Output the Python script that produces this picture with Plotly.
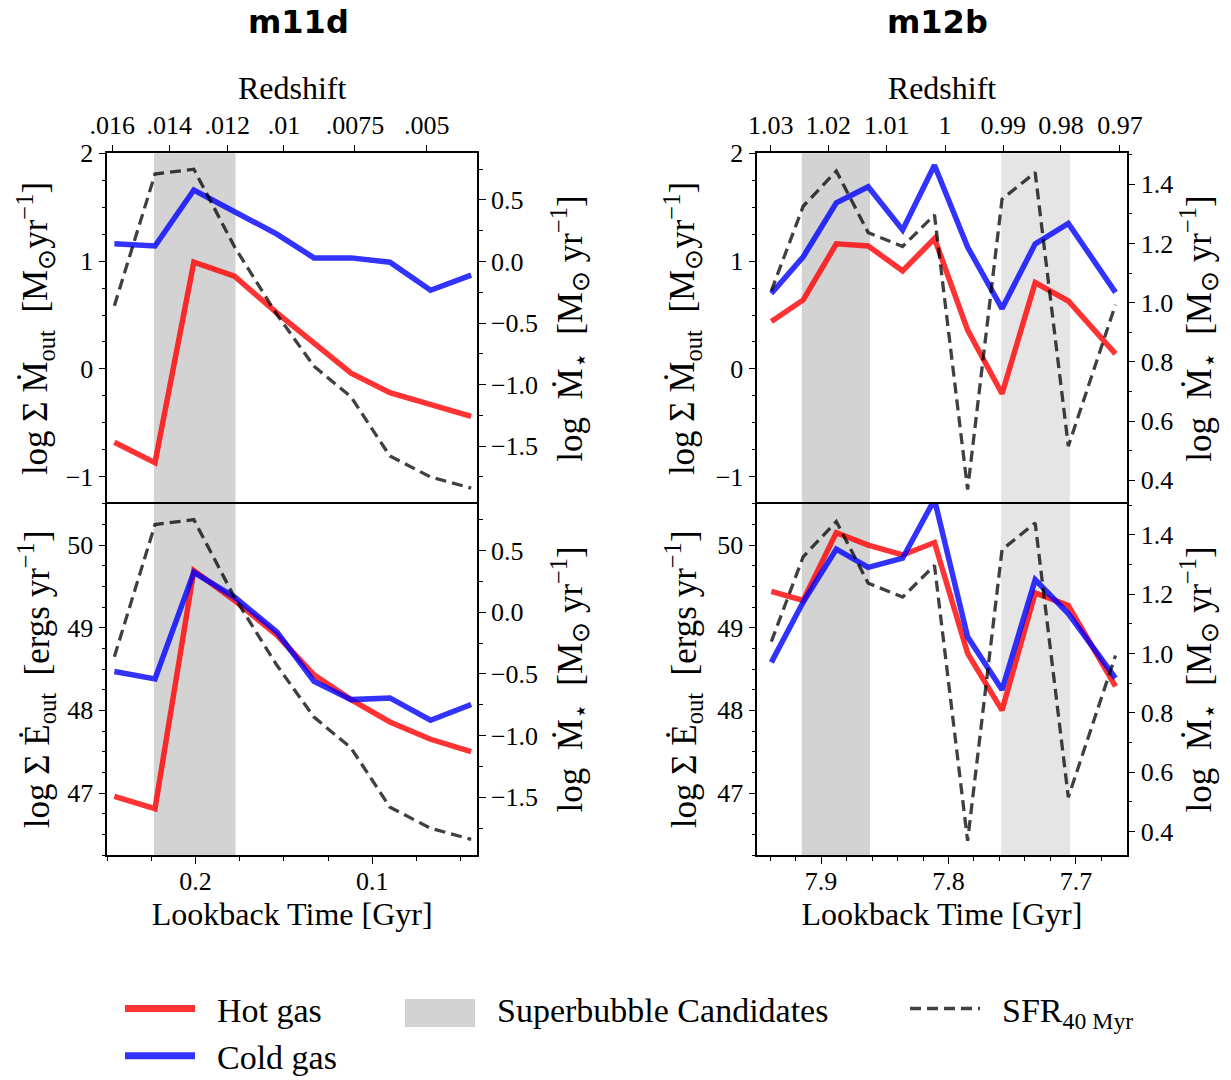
import plotly.graph_objects as go

SERIF = "Liberation Serif"

# ---------------- data ----------------
# m11d  (lookback time in Gyr)
t_m11d = [0.246, 0.223, 0.201, 0.178, 0.154, 0.133, 0.112, 0.090, 0.067, 0.044]
mout_hot_m11d = [-0.68, -0.87, 0.99, 0.86, 0.52, 0.24, -0.04, -0.22, -0.33, -0.44]
mout_cold_m11d = [1.16, 1.14, 1.66, 1.46, 1.25, 1.03, 1.03, 0.99, 0.73, 0.87]
edot_hot_m11d = [46.96, 46.81, 49.69, 49.33, 48.91, 48.43, 48.13, 47.86, 47.65, 47.50]
edot_cold_m11d = [48.47, 48.38, 49.67, 49.37, 48.95, 48.35, 48.13, 48.15, 47.88, 48.07]
sfr_m11d = [-0.36, 0.71, 0.75, 0.12, -0.43, -0.85, -1.10, -1.58, -1.75, -1.84]

# m12b
t_m12b = [7.939, 7.914, 7.888, 7.863, 7.836, 7.811, 7.785, 7.758, 7.732, 7.706, 7.669]
mout_hot_m12b = [0.44, 0.64, 1.16, 1.14, 0.91, 1.21, 0.36, -0.23, 0.80, 0.63, 0.14]
mout_cold_m12b = [0.70, 1.04, 1.54, 1.69, 1.29, 1.89, 1.13, 0.56, 1.16, 1.35, 0.71]
edot_hot_m12b = [49.44, 49.33, 50.15, 50.00, 49.88, 50.03, 48.69, 48.00, 49.42, 49.27, 48.29]
edot_cold_m12b = [48.58, 49.31, 49.95, 49.73, 49.84, 50.55, 48.89, 48.25, 49.58, 49.17, 48.39]
sfr_m12b = [1.04, 1.326, 1.445, 1.237, 1.19, 1.297, 0.368, 1.35, 1.44, 0.515, 0.993]

# superbubble candidate windows (lookback time, Gyr)
sb_start_m11d = [0.2236]
sb_end_m11d = [0.1774]
sb_start_m12b = [7.9151, 7.7587]
sb_end_m12b = [7.8616, 7.7046]

# redshift tick labels and the lookback times where they sit
z_pos_m11d = [0.2472, 0.2149, 0.1821, 0.1500, 0.1098, 0.0692]
z_lab_m11d = [".016", ".014", ".012", ".01", ".0075", ".005"]
z_pos_m12b = [7.9395, 7.8943, 7.8485, 7.8027, 7.7570, 7.7118, 7.6655]
z_lab_m12b = ["1.03", "1.02", "1.01", "1", "0.99", "0.98", "0.97"]

# legend labels
leg_names = ["Hot gas", "Cold gas", "Superbubble Candidates", "SFR<sub>40 Myr</sub>"]

# ---------------- style ----------------
RED = "rgba(255,0,0,0.8)"
BLUE = "rgba(0,0,255,0.8)"
DASH = "rgba(0,0,0,0.75)"
BAND = "#d3d3d3"
band_opacity_m12b = [1.0, 0.6]
W = 1231
H = 1080
GAP = "\u2002"

DX_L = [107.3 / W, 477.0 / W]
DX_R = [757.3 / W, 1126.7 / W]
DY_T = [1 - 503.7 / H, 1 - 153.3 / H]
DY_B = [1 - 855.0 / H, 1 - 503.7 / H]

fig = go.Figure()

panels = [
    dict(xa="x2", ya="y2", yb="y5", t=t_m11d, hot=mout_hot_m11d, cold=mout_cold_m11d, sfr=sfr_m11d),
    dict(xa="x", ya="y", yb="y6", t=t_m11d, hot=edot_hot_m11d, cold=edot_cold_m11d, sfr=sfr_m11d),
    dict(xa="x4", ya="y4", yb="y7", t=t_m12b, hot=mout_hot_m12b, cold=mout_cold_m12b, sfr=sfr_m12b),
    dict(xa="x3", ya="y3", yb="y8", t=t_m12b, hot=edot_hot_m12b, cold=edot_cold_m12b, sfr=sfr_m12b),
]

for p in panels:
    fig.add_trace(go.Scatter(x=p["t"], y=p["hot"], xaxis=p["xa"], yaxis=p["ya"], mode="lines",
                             line=dict(color=RED, width=5.5), showlegend=False, hoverinfo="skip"))
    fig.add_trace(go.Scatter(x=p["t"], y=p["cold"], xaxis=p["xa"], yaxis=p["ya"], mode="lines",
                             line=dict(color=BLUE, width=5.5), showlegend=False, hoverinfo="skip"))
    fig.add_trace(go.Scatter(x=p["t"], y=p["sfr"], xaxis=p["xa"], yaxis=p["yb"], mode="lines",
                             line=dict(color=DASH, width=3.3, dash="11px,6px"), showlegend=False,
                             hoverinfo="skip"))

# superbubble bands
for xa, ya in [("x2", "y2"), ("x", "y")]:
    for s, e in zip(sb_start_m11d, sb_end_m11d):
        fig.add_shape(type="rect", xref=xa, yref=ya + " domain", x0=s, x1=e, y0=0, y1=1,
                      fillcolor=BAND, line_width=0, layer="below")
for xa, ya in [("x4", "y4"), ("x3", "y3")]:
    for s, e, op in zip(sb_start_m12b, sb_end_m12b, band_opacity_m12b):
        fig.add_shape(type="rect", xref=xa, yref=ya + " domain", x0=s, x1=e, y0=0, y1=1,
                      fillcolor=BAND, opacity=op, line_width=0, layer="below")

# legend entries
fig.add_trace(go.Scatter(x=[None], y=[None], mode="lines", line=dict(color=RED, width=7),
                         name=GAP + leg_names[0], legend="legend"))
fig.add_trace(go.Scatter(x=[None], y=[None], mode="lines", line=dict(color=BLUE, width=7),
                         name=GAP + leg_names[1], legend="legend"))
fig.add_trace(go.Scatter(x=[None], y=[None], mode="lines", line=dict(width=1, color="rgba(0,0,0,0)"),
                         name=GAP + leg_names[2], legend="legend2"))
fig.add_trace(go.Scatter(x=[None], y=[None], mode="lines", line=dict(color=DASH, width=3.5, dash="11px,6px"),
                         name=GAP + leg_names[3], legend="legend3"))
# legend key box for the superbubble band
fig.add_shape(type="rect", xref="paper", yref="paper", x0=405 / W, x1=475 / W, y0=1 - 1027 / H,
              y1=1 - 999 / H, fillcolor=BAND, line_width=0)

tickfont = dict(family=SERIF, size=26, color="black")
titlefont = dict(family=SERIF, size=32, color="black")
ytitlefont = dict(family=SERIF, size=35, color="black")
base = dict(showline=True, linecolor="black", linewidth=1.5, ticks="outside", ticklen=7, tickwidth=1.3,
            tickcolor="black", showgrid=False, zeroline=False, tickfont=tickfont, automargin=False)


def minor(d):
    return dict(dtick=d, tick0=0, ticks="outside", ticklen=4, tickwidth=1, tickcolor="black", showgrid=False)


YT_L = "log Σ Ṁ<sub>out</sub>  [M<sub>⊙</sub>yr<sup>−1</sup>]"
YB_L = "log Σ Ė<sub>out</sub>  [ergs yr<sup>−1</sup>]"
Y_R = "log  Ṁ<sub>⋆</sub>  [M<sub>⊙</sub> yr<sup>−1</sup>]"
legfont = dict(family=SERIF, size=34, color="black")

lay = dict(
    width=W, height=H, margin=dict(l=0, r=0, t=0, b=0, autoexpand=False),
    paper_bgcolor="white", plot_bgcolor="white",
    # bottom-left
    xaxis=dict(base, domain=DX_L, anchor="y", range=[0.25, 0.0407], tick0=0, dtick=0.1, tickformat=".1f",
               minor=minor(0.025), mirror=True, ticklabelstandoff=-5,
               title=dict(text="Lookback Time [Gyr]", font=titlefont, standoff=6)),
    # top-left (redshift)
    xaxis2=dict(base, domain=DX_L, anchor="y2", side="top", range=[0.25, 0.0407], tickmode="array",
                tickvals=z_pos_m11d, ticktext=z_lab_m11d, mirror=False,
                title=dict(text="Redshift", font=titlefont, standoff=2)),
    # bottom-right
    xaxis3=dict(base, domain=DX_R, anchor="y3", range=[7.95, 7.6602], tick0=0, dtick=0.1, tickformat=".1f",
                minor=minor(0.02), mirror=True, ticklabelstandoff=-5,
                title=dict(text="Lookback Time [Gyr]", font=titlefont, standoff=6)),
    # top-right (redshift)
    xaxis4=dict(base, domain=DX_R, anchor="y4", side="top", range=[7.95, 7.6602], tickmode="array",
                tickvals=z_pos_m12b, ticktext=z_lab_m12b, mirror=False,
                title=dict(text="Redshift", font=titlefont, standoff=2)),
    yaxis=dict(base, domain=DY_B, anchor="x", range=[46.25, 50.5], tick0=0, dtick=1, minor=minor(0.25),
               title=dict(text=YB_L, font=ytitlefont, standoff=7)),
    yaxis2=dict(base, domain=DY_T, anchor="x2", range=[-1.25, 2], tick0=0, dtick=1, minor=minor(0.25),
                title=dict(text=YT_L, font=ytitlefont, standoff=7)),
    yaxis3=dict(base, domain=DY_B, anchor="x3", range=[46.25, 50.5], tick0=0, dtick=1, minor=minor(0.25),
                title=dict(text=YB_L, font=ytitlefont, standoff=10)),
    yaxis4=dict(base, domain=DY_T, anchor="x4", range=[-1.25, 2], tick0=0, dtick=1, minor=minor(0.25),
                title=dict(text=YT_L, font=ytitlefont, standoff=10)),
    yaxis5=dict(base, overlaying="y2", anchor="x2", side="right", range=[-1.967, 0.879], tick0=0, dtick=0.5,
                tickformat=".1f", minor=minor(0.25), title=dict(text=Y_R, font=ytitlefont, standoff=20)),
    yaxis6=dict(base, overlaying="y", anchor="x", side="right", range=[-1.967, 0.879], tick0=0, dtick=0.5,
                tickformat=".1f", minor=minor(0.25), title=dict(text=Y_R, font=ytitlefont, standoff=20)),
    yaxis7=dict(base, overlaying="y4", anchor="x4", side="right", range=[0.3205, 1.505], tick0=0, dtick=0.2,
                tickformat=".1f", minor=minor(0.1), title=dict(text=Y_R, font=ytitlefont, standoff=14)),
    yaxis8=dict(base, overlaying="y3", anchor="x3", side="right", range=[0.3205, 1.505], tick0=0, dtick=0.2,
                tickformat=".1f", minor=minor(0.1), title=dict(text=Y_R, font=ytitlefont, standoff=14)),
    legend=dict(x=120 / W, y=1 - 980 / H, xanchor="left", yanchor="top", orientation="v",
                font=legfont, itemwidth=70, bgcolor="rgba(0,0,0,0)", tracegroupgap=0),
    legend2=dict(x=400 / W, y=1 - 980 / H, xanchor="left", yanchor="top", orientation="v",
                 font=legfont, itemwidth=70, bgcolor="rgba(0,0,0,0)"),
    legend3=dict(x=905 / W, y=1 - 980 / H, xanchor="left", yanchor="top", orientation="v",
                 font=legfont, itemwidth=70, bgcolor="rgba(0,0,0,0)"),
    annotations=[
        dict(text="<b>m11d</b>", x=298 / W, y=1 - 22 / H, xref="paper", yref="paper", showarrow=False,
             font=dict(family="DejaVu Sans", size=32, color="black"), xanchor="center", yanchor="middle"),
        dict(text="<b>m12b</b>", x=937 / W, y=1 - 22 / H, xref="paper", yref="paper", showarrow=False,
             font=dict(family="DejaVu Sans", size=32, color="black"), xanchor="center", yanchor="middle"),
    ],
)
fig.update_layout(**lay)
fig.write_html("out.html")
